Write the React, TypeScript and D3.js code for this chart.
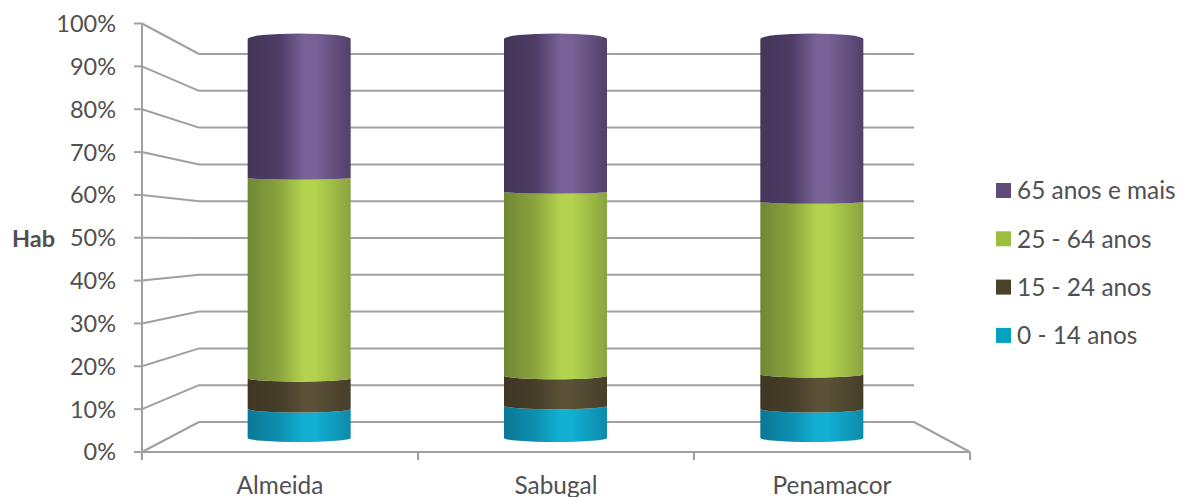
import * as d3 from "d3";

// Age structure of the resident population, percentage share per municipality.
const municipalities = ["Almeida", "Sabugal", "Penamacor"];
const ageGroups = ["0 - 14 anos", "15 - 24 anos", "25 - 64 anos", "65 anos e mais"];
const age0to14 = [7.3, 8.1, 7.3];
const age15to24 = [7.7, 7.5, 8.7];
const age25to64 = [50.2, 46.1, 43.2];
const age65plus = [34.8, 38.3, 40.8];
const percentTicks = [0, 10, 20, 30, 40, 50, 60, 70, 80, 90, 100];
const seriesValues = [age0to14, age15to24, age25to64, age65plus];

const swatches = ["#00a2c4", "#4a432a", "#9dbd3e", "#604a7b"];
const ramps = [
  ["#0c7797", "#0d8fb0", "#11b0d2", "#0d8aab"],
  ["#3f3724", "#453d28", "#5a5136", "#453e29"],
  ["#6f8835", "#8aa33d", "#b4d44f", "#89a43f"],
  ["#44365a", "#4c3c65", "#7a6297", "#514069"],
];

const WIDTH = 1185;
const HEIGHT = 497;
const FONT = "Lato, 'Open Sans', sans-serif";
const TICK_SIZE = 23.5;
const LABEL_SIZE = 24.4;
const TEXT = "#505050";
const GRID = "#a0a0a0";

// The 3D box is three linear planes: the front edge, the back wall, and the
// plane through the cylinder axes.
const frontY = d3.scaleLinear().domain([0, 100]).range([452, 23.5]);
const backY = d3.scaleLinear().domain([0, 100]).range([422, 54]);
const barY = d3.scaleLinear().domain([0, 100]).range([438, 39]);
const sag = d3.scaleLinear().domain([0, 100]).range([4, 0.6]);

const frontX = d3.scaleBand().domain(municipalities).range([142, 970]);
const barX = d3.scaleBand().domain(municipalities).range([171, 940]);
const BACK_LEFT = 199;
const BACK_RIGHT = 914;
const BAR_RX = 51.5;
const CAP_RY = 5.5;

const rows = municipalities.map((name, i) => {
  const row: Record<string, number | string> = { name };
  ageGroups.forEach((g, s) => (row[g] = seriesValues[s][i]));
  return row;
});
const stacked = d3.stack<any>().keys(ageGroups)(rows);

// One drum of a cylinder: curved lower rim, curved upper rim; the last drum
// arches upward to form the visible lid.
function drumPath(cx: number, v0: number, v1: number, isTop: boolean) {
  const l = cx - BAR_RX;
  const r = cx + BAR_RX;
  const y0 = barY(v0);
  const y1 = barY(v1);
  const upper = isTop
    ? `A${BAR_RX},${CAP_RY} 0 0 1 ${r},${y1}`
    : `A${BAR_RX},${sag(v1)} 0 0 0 ${r},${y1}`;
  return `M${l},${y1}${upper}L${r},${y0}A${BAR_RX},${sag(v0)} 0 0 1 ${l},${y0}Z`;
}

export default function App() {
  const legendOrder = d3.range(ageGroups.length).reverse();
  return (
    <svg
      width={WIDTH}
      height={HEIGHT}
      viewBox={`0 0 ${WIDTH} ${HEIGHT}`}
      style={{ position: "absolute", left: 0, top: 0, background: "#fff" }}
      fontFamily={FONT}
    >
      <defs>
        {ramps.map((c, i) => (
          <linearGradient key={i} id={`drum-${i}`} x1="0" x2="1" y1="0" y2="0">
            <stop offset="0" stopColor={c[0]} />
            <stop offset="0.3" stopColor={c[1]} />
            <stop offset="0.55" stopColor={c[2]} />
            <stop offset="0.65" stopColor={c[2]} />
            <stop offset="1" stopColor={c[3]} />
          </linearGradient>
        ))}
      </defs>

      {/* wall gridlines and their slanted returns to the front axis */}
      <g fill="none" stroke={GRID} strokeWidth={2}>
        {percentTicks.map((t) => (
          <g key={t}>
            <line x1={134} x2={142} y1={frontY(t)} y2={frontY(t)} />
            <line x1={142} y1={frontY(t)} x2={BACK_LEFT} y2={backY(t)} />
            <line x1={BACK_LEFT} x2={BACK_RIGHT} y1={backY(t)} y2={backY(t)} />
          </g>
        ))}
        <line x1={BACK_RIGHT} y1={backY(0)} x2={970} y2={frontY(0)} />
        <line x1={142} x2={142} y1={frontY(100)} y2={frontY(0) + 8} />
        <line x1={142} x2={970} y1={frontY(0)} y2={frontY(0)} />
        {[...municipalities.map((m) => frontX(m) as number), 970].map((x) => (
          <line key={x} x1={x} x2={x} y1={frontY(0)} y2={frontY(0) + 8} />
        ))}
      </g>

      {/* cylinders */}
      {stacked.map((series, s) => (
        <g key={series.key}>
          {series.map((d, i) => {
            const name = municipalities[i];
            const cx = (barX(name) as number) + barX.bandwidth() / 2;
            return (
              <path
                key={name}
                d={drumPath(cx, d[0], d[1], s === stacked.length - 1)}
                fill={`url(#drum-${s})`}
              />
            );
          })}
        </g>
      ))}

      {/* value axis labels */}
      <g fontSize={TICK_SIZE} fill={TEXT} textAnchor="end">
        {percentTicks.map((t) => (
          <text key={t} x={116} y={frontY(t)} dy="0.36em">
            {t}%
          </text>
        ))}
      </g>
      <text x={12} y={247} fontSize={TICK_SIZE} fontWeight={700} fill={TEXT}>
        Hab
      </text>

      {/* category labels */}
      <g fontSize={LABEL_SIZE} fill={TEXT} textAnchor="middle">
        {municipalities.map((m) => (
          <text key={m} x={(frontX(m) as number) + frontX.bandwidth() / 2} y={494}>
            {m}
          </text>
        ))}
      </g>

      {/* legend */}
      <g fontSize={LABEL_SIZE} fill={TEXT}>
        {legendOrder.map((s, k) => {
          const y = 183 + k * 48.3;
          return (
            <g key={s}>
              <rect x={996} y={y} width={15} height={15} fill={swatches[s]} />
              <text x={1017} y={y + 7.5} dy="0.36em">
                {ageGroups[s]}
              </text>
            </g>
          );
        })}
      </g>
    </svg>
  );
}
